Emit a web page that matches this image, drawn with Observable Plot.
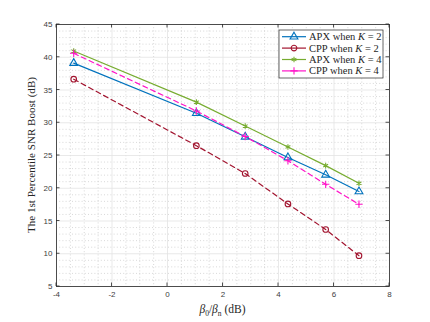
<!DOCTYPE html>
<html><head><meta charset="utf-8">
<script src="https://cdn.jsdelivr.net/npm/d3@7"></script>
<script src="https://cdn.jsdelivr.net/npm/@observablehq/plot@0.6"></script>
<style>
html,body{margin:0;padding:0;background:#fff;}
#chart{position:relative;width:430px;height:322px;}
</style></head>
<body><div id="chart"></div>
<script>
const xVals = [-3.38, 1.04, 2.8, 4.34, 5.7, 6.9];
const apxK2 = [39.1, 31.45, 27.85, 24.7, 22.05, 19.5];
const cppK2 = [36.65, 26.5, 22.25, 17.6, 13.7, 9.7];
const apxK4 = [40.95, 33.15, 29.5, 26.3, 23.45, 20.75];
const cppK4 = [40.6, 31.8, 27.9, 24.2, 20.6, 17.55];
const seriesNames = ["APX when K = 2", "CPP when K = 2", "APX when K = 4", "CPP when K = 4"];
const xTicks = [-4, -2, 0, 2, 4, 6, 8];
const yTicks = [5, 10, 15, 20, 25, 30, 35, 40, 45];

const styles = [
  {color: "#0072BD", symbol: "triangle", dash: null, r: 2.9},
  {color: "#A2142F", symbol: "circle", dash: "5,3.5", r: 2.8},
  {color: "#77AC30", symbol: "asterisk", dash: null, r: 2.6},
  {color: "#FF14C8", symbol: "plus", dash: "5,3.5", r: 2.5}
];
const allY = [apxK2, cppK2, apxK4, cppK4];
const rows = allY.flatMap((ys, i) => ys.map((y, j) => ({x: xVals[j], y, s: seriesNames[i], i})));

const minorX = d3.range(-4, 8.001, 0.5).filter(v => Math.abs(v % 2) > 1e-6);
const minorY = d3.range(5, 45.001, 1).filter(v => Math.abs(v % 5) > 1e-6);

const marks = [
  Plot.ruleX(minorX, {stroke: "#bdbdbd", strokeDasharray: "1,2.2", strokeWidth: 0.6}),
  Plot.ruleY(minorY, {stroke: "#bdbdbd", strokeDasharray: "1,2.2", strokeWidth: 0.6}),
  Plot.ruleX(xTicks, {stroke: "#e3e3e3", strokeWidth: 0.8}),
  Plot.ruleY(yTicks, {stroke: "#e3e3e3", strokeWidth: 0.8}),
];
styles.forEach((st, i) => {
  const data = rows.filter(d => d.i === i);
  marks.push(Plot.line(data, {x: "x", y: "y", stroke: st.color, strokeWidth: 1.2, strokeDasharray: st.dash}));
  marks.push(Plot.dot(data, {x: "x", y: "y", stroke: st.color, symbol: st.symbol, r: st.r, fill: "none", strokeWidth: 1.1}));
});
marks.push(
  Plot.frame({stroke: "#262626", strokeWidth: 0.8}),
  Plot.axisX(xTicks, {anchor: "bottom", tickSize: 0, tickPadding: 5, fontSize: 8, fill: "#404040", label: null, tickFormat: d => String(d)}),
  Plot.axisY(yTicks, {anchor: "left", tickSize: 0, tickPadding: 4, fontSize: 8, fill: "#404040", label: null, tickFormat: d => String(d)})
);

const plot = Plot.plot({
  width: 430, height: 322,
  marginLeft: 56, marginRight: 41, marginTop: 24, marginBottom: 36,
  x: {domain: [-4, 8]},
  y: {domain: [5, 45]},
  style: {fontFamily: "'Liberation Sans', Arial, sans-serif", background: "#fff"},
  marks
});
const svg = d3.select(plot);
const xs = plot.scale("x"), ys = plot.scale("y");
// inward ticks on all four sides
const tk = 3.5;
const g = svg.append("g").attr("stroke", "#262626").attr("stroke-width", 0.8);
xTicks.forEach(v => {
  const px = xs.apply(v);
  g.append("line").attr("x1", px).attr("x2", px).attr("y1", ys.apply(5)).attr("y2", ys.apply(5) - tk);
  g.append("line").attr("x1", px).attr("x2", px).attr("y1", ys.apply(45)).attr("y2", ys.apply(45) + tk);
});
yTicks.forEach(v => {
  const py = ys.apply(v);
  g.append("line").attr("y1", py).attr("y2", py).attr("x1", xs.apply(-4)).attr("x2", xs.apply(-4) + tk);
  g.append("line").attr("y1", py).attr("y2", py).attr("x1", xs.apply(8)).attr("x2", xs.apply(8) - tk);
});
// axis titles
const serif = "'Liberation Serif', 'DejaVu Serif', serif";
const xl = svg.append("text").attr("x", (xs.apply(-4) + xs.apply(8)) / 2).attr("y", 313)
  .attr("text-anchor", "middle").attr("font-family", serif).attr("font-size", 11.5).attr("fill", "#262626");
xl.append("tspan").attr("font-style", "italic").text("β");
xl.append("tspan").attr("font-size", 7.5).attr("dy", 2.5).text("0");
xl.append("tspan").attr("dy", -2.5).text("/");
xl.append("tspan").attr("font-style", "italic").text("β");
xl.append("tspan").attr("font-size", 7.5).attr("dy", 2.5).text("n");
xl.append("tspan").attr("dy", -2.5).text(" (dB)");
svg.append("text").attr("transform", `translate(35,${(ys.apply(5) + ys.apply(45)) / 2}) rotate(-90)`)
  .attr("text-anchor", "middle").attr("font-family", serif).attr("font-size", 10.5).attr("fill", "#262626")
  .attr("textLength", 156).attr("lengthAdjust", "spacingAndGlyphs")
  .text("The 1st Percentile SNR Boost (dB)");
// legend
const lx = 279, ly = 30, lw = 104, lh = 48;
const lg = svg.append("g");
lg.append("rect").attr("x", lx).attr("y", ly).attr("width", lw).attr("height", lh)
  .attr("fill", "#fff").attr("stroke", "#262626").attr("stroke-width", 0.7);
const symMap = {triangle: d3.symbolTriangle, circle: d3.symbolCircle, asterisk: d3.symbolAsterisk, plus: d3.symbolPlus};
styles.forEach((st, i) => {
  const cy = ly + 6.7 + i * 11.4;
  const row = lg.append("g");
  row.append("line").attr("x1", lx + 3).attr("x2", lx + 27).attr("y1", cy).attr("y2", cy)
    .attr("stroke", st.color).attr("stroke-width", 1.2);
  row.append("path").attr("d", d3.symbol(symMap[st.symbol], Math.PI * st.r * st.r)())
    .attr("transform", `translate(${lx + 15},${cy})`).attr("fill", "none").attr("stroke", st.color).attr("stroke-width", 1.1);
  const parts = seriesNames[i].split("K");
  const t = row.append("text").attr("x", lx + 30).attr("y", cy + 3.5).attr("font-family", serif)
    .attr("text-anchor", "start").attr("font-size", 10.5).attr("fill", "#262626");
  t.append("tspan").text(parts[0]);
  t.append("tspan").attr("font-style", "italic").text("K");
  t.append("tspan").text(parts[1]);
});
document.getElementById("chart").appendChild(plot);
</script></body></html>
